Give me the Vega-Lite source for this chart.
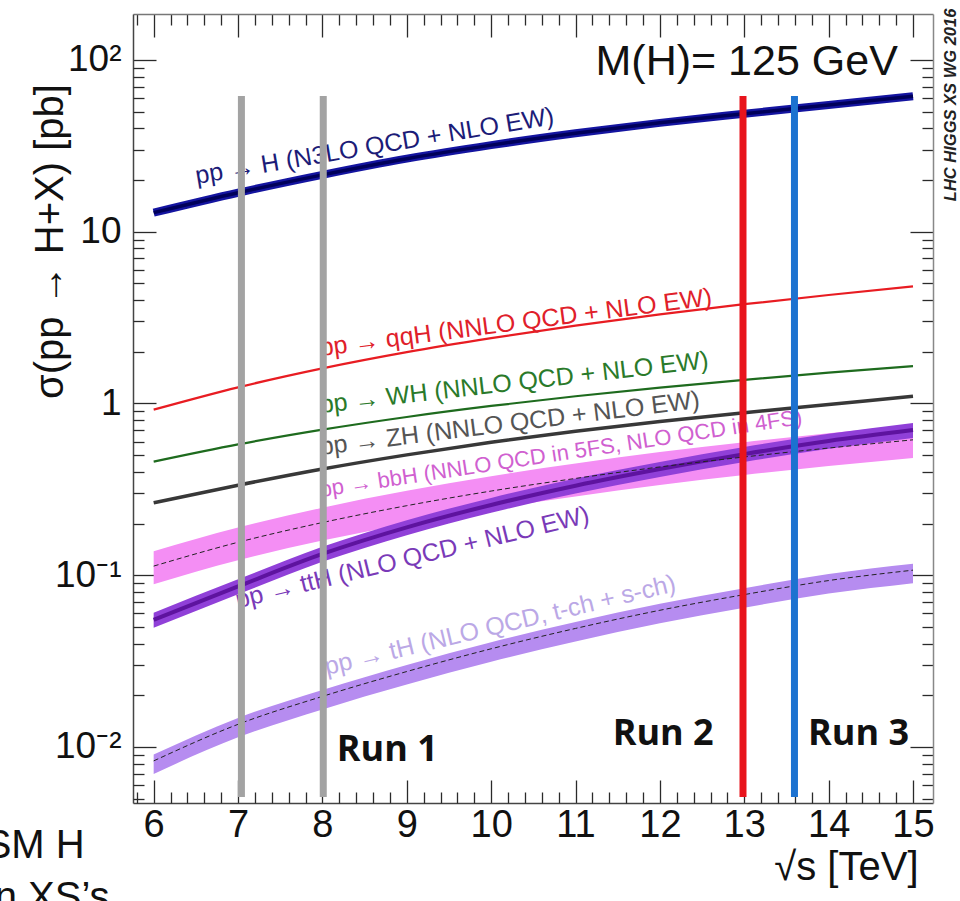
{
  "$schema": "https://vega.github.io/schema/vega-lite/v6.json",
  "width": 800,
  "height": 789,
  "autosize": {"type": "none"},
  "padding": {"left": 133, "top": 14, "right": 27, "bottom": 98},
  "background": "white",
  "config": {
    "view": {"stroke": null},
    "font": "Liberation Sans",
    "axis": {"grid": false, "tickColor": "#2a2a2a", "tickWidth": 1.3, "domainColor": "#444", "domainWidth": 1.5, "labelFont": "Liberation Sans", "titleFont": "Liberation Sans", "labelColor": "#111", "titleColor": "#111", "titleFontWeight": "normal", "labelOverlap": false, "labelFlush": false, "labelBound": false, "zindex": 1}
  },
  "datasets": {
    "lines": [
      {"p": "ggF", "x": 6, "y": 12.9}, {"p": "ggF", "x": 7, "y": 16.85}, {"p": "ggF", "x": 8, "y": 21.42}, {"p": "ggF", "x": 9, "y": 26.6}, {"p": "ggF", "x": 10, "y": 31.9}, {"p": "ggF", "x": 11, "y": 37.4}, {"p": "ggF", "x": 12, "y": 43.0}, {"p": "ggF", "x": 13, "y": 48.58}, {"p": "ggF", "x": 14, "y": 54.67}, {"p": "ggF", "x": 15, "y": 61.5},
      {"p": "qqH", "x": 6, "y": 0.92}, {"p": "qqH", "x": 7, "y": 1.241}, {"p": "qqH", "x": 8, "y": 1.601}, {"p": "qqH", "x": 9, "y": 1.99}, {"p": "qqH", "x": 10, "y": 2.4}, {"p": "qqH", "x": 11, "y": 2.84}, {"p": "qqH", "x": 12, "y": 3.3}, {"p": "qqH", "x": 13, "y": 3.782}, {"p": "qqH", "x": 14, "y": 4.278}, {"p": "qqH", "x": 15, "y": 4.8},
      {"p": "WH", "x": 6, "y": 0.458}, {"p": "WH", "x": 7, "y": 0.5771}, {"p": "WH", "x": 8, "y": 0.7035}, {"p": "WH", "x": 9, "y": 0.834}, {"p": "WH", "x": 10, "y": 0.967}, {"p": "WH", "x": 11, "y": 1.101}, {"p": "WH", "x": 12, "y": 1.237}, {"p": "WH", "x": 13, "y": 1.373}, {"p": "WH", "x": 14, "y": 1.51}, {"p": "WH", "x": 15, "y": 1.65},
      {"p": "ZH", "x": 6, "y": 0.264}, {"p": "ZH", "x": 7, "y": 0.3341}, {"p": "ZH", "x": 8, "y": 0.4153}, {"p": "ZH", "x": 9, "y": 0.502}, {"p": "ZH", "x": 10, "y": 0.594}, {"p": "ZH", "x": 11, "y": 0.689}, {"p": "ZH", "x": 12, "y": 0.786}, {"p": "ZH", "x": 13, "y": 0.8839}, {"p": "ZH", "x": 14, "y": 0.9861}, {"p": "ZH", "x": 15, "y": 1.1}
    ],
    "bands": [
      {"p": "bbH", "x": 6, "y": 0.113, "lo": 0.0887, "hi": 0.138}, {"p": "bbH", "x": 7, "y": 0.1555, "lo": 0.1221, "hi": 0.1897}, {"p": "bbH", "x": 8, "y": 0.2026, "lo": 0.159, "hi": 0.2472}, {"p": "bbH", "x": 9, "y": 0.254, "lo": 0.1994, "hi": 0.3099}, {"p": "bbH", "x": 10, "y": 0.309, "lo": 0.2426, "hi": 0.377}, {"p": "bbH", "x": 11, "y": 0.366, "lo": 0.2873, "hi": 0.4465}, {"p": "bbH", "x": 12, "y": 0.427, "lo": 0.3352, "hi": 0.5209}, {"p": "bbH", "x": 13, "y": 0.488, "lo": 0.3831, "hi": 0.5954}, {"p": "bbH", "x": 14, "y": 0.55, "lo": 0.4318, "hi": 0.671}, {"p": "bbH", "x": 15, "y": 0.614, "lo": 0.482, "hi": 0.749},
      {"p": "ttH", "x": 6, "y": 0.055, "lo": 0.0495, "hi": 0.0605}, {"p": "ttH", "x": 7, "y": 0.0861, "lo": 0.0775, "hi": 0.0947}, {"p": "ttH", "x": 8, "y": 0.133, "lo": 0.1197, "hi": 0.1463}, {"p": "ttH", "x": 9, "y": 0.19, "lo": 0.171, "hi": 0.209}, {"p": "ttH", "x": 10, "y": 0.2564, "lo": 0.2308, "hi": 0.282}, {"p": "ttH", "x": 11, "y": 0.332, "lo": 0.2988, "hi": 0.3652}, {"p": "ttH", "x": 12, "y": 0.415, "lo": 0.3735, "hi": 0.4565}, {"p": "ttH", "x": 13, "y": 0.507, "lo": 0.4563, "hi": 0.5577}, {"p": "ttH", "x": 14, "y": 0.605, "lo": 0.5445, "hi": 0.6655}, {"p": "ttH", "x": 15, "y": 0.7, "lo": 0.63, "hi": 0.77},
      {"p": "tH", "x": 6, "y": 0.0083, "lo": 0.00697, "hi": 0.00905}, {"p": "tH", "x": 7, "y": 0.01355, "lo": 0.01138, "hi": 0.01477}, {"p": "tH", "x": 8, "y": 0.0197, "lo": 0.01655, "hi": 0.02147}, {"p": "tH", "x": 9, "y": 0.0275, "lo": 0.0231, "hi": 0.02998}, {"p": "tH", "x": 10, "y": 0.0373, "lo": 0.03133, "hi": 0.04066}, {"p": "tH", "x": 11, "y": 0.049, "lo": 0.04116, "hi": 0.05341}, {"p": "tH", "x": 12, "y": 0.0625, "lo": 0.0525, "hi": 0.06813}, {"p": "tH", "x": 13, "y": 0.0771, "lo": 0.06476, "hi": 0.08404}, {"p": "tH", "x": 14, "y": 0.0931, "lo": 0.0782, "hi": 0.1015}, {"p": "tH", "x": 15, "y": 0.107, "lo": 0.08988, "hi": 0.1166}
    ],
    "runs": [
      {"run": "7 TeV", "x": 7.04, "top": 61.7, "bottom": 0.00512},
      {"run": "8 TeV", "x": 8.01, "top": 61.7, "bottom": 0.00512},
      {"run": "13 TeV", "x": 12.985, "top": 61.7, "bottom": 0.00512},
      {"run": "13.6 TeV", "x": 13.595, "top": 61.7, "bottom": 0.00512}
    ]
  },
  "resolve": {"scale": {"color": "independent"}, "axis": {"x": "independent", "y": "independent"}},
  "layer": [
    {
      "data": {"name": "bands"},
      "mark": {"type": "area", "interpolate": "monotone", "opacity": 1},
      "encoding": {
        "x": {"field": "x", "type": "quantitative", "scale": {"domain": [5.755, 15.237], "nice": false, "zero": false},
          "axis": {"orient": "bottom", "title": "√s [TeV]", "titleFontSize": 40, "titleX": 785, "titleY": 64, "titleAlign": "right", "titleBaseline": "middle", "titleAnchor": null,
            "values": [6,7,8,9,10,11,12,13,14,15], "format": "d",
            "tickSize": -23, "labelFontSize": 38, "labelBaseline": "top", "labelPadding": 26}},
        "y": {"field": "lo", "type": "quantitative", "scale": {"type": "log", "domain": [0.00472, 185], "nice": false},
          "axis": {"orient": "left", "title": "σ(pp → H+X) [pb]", "titleFontSize": 40, "titleAngle": 270, "titleX": -83, "titleY": 227, "titleAlign": "center", "titleBaseline": "middle", "titleAnchor": null,
            "values": [0.01, 0.1, 1, 10, 100],
            "tickSize": -23,
            "labelExpr": "datum.value > 50 ? '10²' : datum.value > 5 ? '10' : datum.value > 0.5 ? '1' : datum.value > 0.05 ? '10⁻¹' : '10⁻²'",
            "labelFontSize": 37, "labelBaseline": "middle", "labelPadding": 35}},
        "y2": {"field": "hi"},
        "color": {"field": "p", "type": "nominal", "scale": {"domain": ["bbH", "ttH", "tH"], "range": ["#f48ef4", "#9040d8", "#b68cf0"]}, "legend": null}
      }
    },
    {
      "data": {"name": "lines"},
      "transform": [{"filter": "datum.p == 'qqH' || datum.p == 'WH'"}],
      "mark": {"type": "line", "interpolate": "monotone", "strokeWidth": 2.2},
      "encoding": {
        "x": {"field": "x", "type": "quantitative", "scale": {"domain": [5.755, 15.237], "nice": false, "zero": false},
          "axis": {"orient": "bottom", "title": null, "labels": false, "domain": false,
            "values": [5.8,6.2,6.4,6.6,6.8,7.2,7.4,7.6,7.8,8.2,8.4,8.6,8.8,9.2,9.4,9.6,9.8,10.2,10.4,10.6,10.8,11.2,11.4,11.6,11.8,12.2,12.4,12.6,12.8,13.2,13.4,13.6,13.8,14.2,14.4,14.6,14.8],
            "tickSize": -11}},
        "y": {"field": "y", "type": "quantitative", "scale": {"type": "log", "domain": [0.00472, 185], "nice": false},
          "axis": {"orient": "left", "title": null, "labels": false, "domain": false,
            "values": [0.005,0.006,0.007,0.008,0.009,0.02,0.03,0.04,0.05,0.06,0.07,0.08,0.09,0.2,0.3,0.4,0.5,0.6,0.7,0.8,0.9,2,3,4,5,6,7,8,9,20,30,40,50,60,70,80,90],
            "tickSize": -11}},
        "color": {"field": "p", "type": "nominal", "scale": {"domain": ["qqH", "WH"], "range": ["#e81c22", "#1e6b1e"]}, "legend": null}
      }
    },
    {
      "data": {"name": "lines"},
      "transform": [{"filter": "datum.p == 'ZH'"}],
      "mark": {"type": "line", "interpolate": "monotone", "color": "#383838", "strokeWidth": 3.5},
      "encoding": {
        "x": {"field": "x", "type": "quantitative", "scale": {"domain": [5.755, 15.237], "nice": false, "zero": false}, "axis": null},
        "y": {"field": "y", "type": "quantitative", "scale": {"type": "log", "domain": [0.00472, 185], "nice": false}, "axis": null}
      }
    },
    {
      "data": {"name": "lines"},
      "transform": [{"filter": "datum.p == 'ggF'"}],
      "mark": {"type": "line", "interpolate": "monotone", "color": "#1414a0", "strokeWidth": 8},
      "encoding": {
        "x": {"field": "x", "type": "quantitative", "scale": {"domain": [5.755, 15.237], "nice": false, "zero": false}, "axis": null},
        "y": {"field": "y", "type": "quantitative", "scale": {"type": "log", "domain": [0.00472, 185], "nice": false}, "axis": null}
      }
    },
    {
      "data": {"name": "lines"},
      "transform": [{"filter": "datum.p == 'ggF'"}],
      "mark": {"type": "line", "interpolate": "monotone", "color": "#00005a", "strokeWidth": 3.5},
      "encoding": {
        "x": {"field": "x", "type": "quantitative", "scale": {"domain": [5.755, 15.237], "nice": false, "zero": false}, "axis": null},
        "y": {"field": "y", "type": "quantitative", "scale": {"type": "log", "domain": [0.00472, 185], "nice": false}, "axis": null}
      }
    },
    {
      "data": {"name": "bands"},
      "transform": [{"filter": "datum.p == 'ttH'"}],
      "mark": {"type": "line", "interpolate": "monotone", "color": "#5e139f", "strokeWidth": 4},
      "encoding": {
        "x": {"field": "x", "type": "quantitative", "scale": {"domain": [5.755, 15.237], "nice": false, "zero": false}, "axis": null},
        "y": {"field": "y", "type": "quantitative", "scale": {"type": "log", "domain": [0.00472, 185], "nice": false}, "axis": null}
      }
    },
    {
      "data": {"name": "bands"},
      "transform": [{"filter": "datum.p != 'ttH'"}],
      "mark": {"type": "line", "interpolate": "monotone", "color": "#222", "strokeWidth": 1, "strokeDash": [5, 3]},
      "encoding": {
        "x": {"field": "x", "type": "quantitative", "scale": {"domain": [5.755, 15.237], "nice": false, "zero": false},
          "axis": {"orient": "top", "title": null, "labels": false, "domain": false,
            "values": [5.8,6.2,6.4,6.6,6.8,7.2,7.4,7.6,7.8,8.2,8.4,8.6,8.8,9.2,9.4,9.6,9.8,10.2,10.4,10.6,10.8,11.2,11.4,11.6,11.8,12.2,12.4,12.6,12.8,13.2,13.4,13.6,13.8,14.2,14.4,14.6,14.8],
            "tickSize": -11}},
        "y": {"field": "y", "type": "quantitative", "scale": {"type": "log", "domain": [0.00472, 185], "nice": false},
          "axis": {"orient": "right", "title": null, "labels": false, "domain": false,
            "values": [0.005,0.006,0.007,0.008,0.009,0.02,0.03,0.04,0.05,0.06,0.07,0.08,0.09,0.2,0.3,0.4,0.5,0.6,0.7,0.8,0.9,2,3,4,5,6,7,8,9,20,30,40,50,60,70,80,90],
            "tickSize": -11}},
        "detail": {"field": "p"}
      }
    },
    {
      "data": {"values": [{"label": "pp → H (N3LO QCD + NLO EW)", "x": 6.51, "y": 18.97}]},
      "mark": {"type": "text", "align": "left", "baseline": "alphabetic", "angle": -9.5, "fontSize": 25, "color": "#1c1c78", "font": "Liberation Sans"},
      "encoding": {
        "x": {"field": "x", "type": "quantitative", "scale": {"domain": [5.755, 15.237], "nice": false, "zero": false}, "axis": null},
        "y": {"field": "y", "type": "quantitative", "scale": {"type": "log", "domain": [0.00472, 185], "nice": false}, "axis": null},
        "text": {"field": "label"}
      }
    },
    {
      "data": {"values": [{"label": "pp → qqH (NNLO QCD + NLO EW)", "x": 7.98, "y": 1.89}]},
      "mark": {"type": "text", "align": "left", "baseline": "alphabetic", "angle": -7.4, "fontSize": 25, "color": "#e0202a", "font": "Liberation Sans"},
      "encoding": {
        "x": {"field": "x", "type": "quantitative", "scale": {"domain": [5.755, 15.237], "nice": false, "zero": false}, "axis": null},
        "y": {"field": "y", "type": "quantitative", "scale": {"type": "log", "domain": [0.00472, 185], "nice": false}, "axis": null},
        "text": {"field": "label"}
      }
    },
    {
      "data": {"values": [{"label": "pp → WH (NNLO QCD + NLO EW)", "x": 7.98, "y": 0.88}]},
      "mark": {"type": "text", "align": "left", "baseline": "alphabetic", "angle": -6.6, "fontSize": 25, "color": "#2a7a2a", "font": "Liberation Sans"},
      "encoding": {
        "x": {"field": "x", "type": "quantitative", "scale": {"domain": [5.755, 15.237], "nice": false, "zero": false}, "axis": null},
        "y": {"field": "y", "type": "quantitative", "scale": {"type": "log", "domain": [0.00472, 185], "nice": false}, "axis": null},
        "text": {"field": "label"}
      }
    },
    {
      "data": {"values": [{"label": "pp → ZH (NNLO QCD + NLO EW)", "x": 7.98, "y": 0.501}]},
      "mark": {"type": "text", "align": "left", "baseline": "alphabetic", "angle": -7.1, "fontSize": 25, "color": "#555555", "font": "Liberation Sans"},
      "encoding": {
        "x": {"field": "x", "type": "quantitative", "scale": {"domain": [5.755, 15.237], "nice": false, "zero": false}, "axis": null},
        "y": {"field": "y", "type": "quantitative", "scale": {"type": "log", "domain": [0.00472, 185], "nice": false}, "axis": null},
        "text": {"field": "label"}
      }
    },
    {
      "data": {"values": [{"label": "pp → bbH (NNLO QCD in 5FS, NLO QCD in 4FS)", "x": 7.98, "y": 0.2857}]},
      "mark": {"type": "text", "align": "left", "baseline": "alphabetic", "angle": -8.6, "fontSize": 22, "color": "#d060d0", "font": "Liberation Sans"},
      "encoding": {
        "x": {"field": "x", "type": "quantitative", "scale": {"domain": [5.755, 15.237], "nice": false, "zero": false}, "axis": null},
        "y": {"field": "y", "type": "quantitative", "scale": {"type": "log", "domain": [0.00472, 185], "nice": false}, "axis": null},
        "text": {"field": "label"}
      }
    },
    {
      "data": {"values": [{"label": "pp → ttH (NLO QCD + NLO EW)", "x": 6.996, "y": 0.0642}]},
      "mark": {"type": "text", "align": "left", "baseline": "alphabetic", "angle": -13.7, "fontSize": 25, "color": "#7a3ab8", "font": "Liberation Sans"},
      "encoding": {
        "x": {"field": "x", "type": "quantitative", "scale": {"domain": [5.755, 15.237], "nice": false, "zero": false}, "axis": null},
        "y": {"field": "y", "type": "quantitative", "scale": {"type": "log", "domain": [0.00472, 185], "nice": false}, "axis": null},
        "text": {"field": "label"}
      }
    },
    {
      "data": {"values": [{"label": "pp → tH (NLO QCD, t-ch + s-ch)", "x": 8.05, "y": 0.02624}]},
      "mark": {"type": "text", "align": "left", "baseline": "alphabetic", "angle": -13.5, "fontSize": 25, "color": "#bba8e6", "font": "Liberation Sans"},
      "encoding": {
        "x": {"field": "x", "type": "quantitative", "scale": {"domain": [5.755, 15.237], "nice": false, "zero": false}, "axis": null},
        "y": {"field": "y", "type": "quantitative", "scale": {"type": "log", "domain": [0.00472, 185], "nice": false}, "axis": null},
        "text": {"field": "label"}
      }
    },
    {
      "data": {"name": "runs"},
      "mark": {"type": "rule", "strokeWidth": 7},
      "encoding": {
        "x": {"field": "x", "type": "quantitative", "scale": {"domain": [5.755, 15.237], "nice": false, "zero": false},
          "axis": {"orient": "top", "title": null, "labels": false, "domainColor": "#777",
            "values": [6,7,8,9,10,11,12,13,14,15], "tickSize": -23}},
        "y": {"field": "top", "type": "quantitative", "scale": {"type": "log", "domain": [0.00472, 185], "nice": false},
          "axis": {"orient": "right", "title": null, "labels": false, "domainColor": "#888",
            "values": [0.01, 0.1, 1, 10, 100], "tickSize": -23}},
        "y2": {"field": "bottom"},
        "color": {"field": "run", "type": "nominal", "scale": {"domain": ["7 TeV", "8 TeV", "13 TeV", "13.6 TeV"], "range": ["#a3a3a3", "#a3a3a3", "#e8141c", "#1c72d0"]}, "legend": null}
      }
    },
    {
      "data": {"values": [{"label": "Run 1", "x": 8.17, "y": 0.00829}, {"label": "Run 2", "x": 11.44, "y": 0.01027}, {"label": "Run 3", "x": 13.755, "y": 0.01027}]},
      "mark": {"type": "text", "align": "left", "baseline": "alphabetic", "fontSize": 36, "fontWeight": "bold", "font": "Open Sans", "color": "#111"},
      "encoding": {
        "x": {"field": "x", "type": "quantitative", "scale": {"domain": [5.755, 15.237], "nice": false, "zero": false}, "axis": null},
        "y": {"field": "y", "type": "quantitative", "scale": {"type": "log", "domain": [0.00472, 185], "nice": false}, "axis": null},
        "text": {"field": "label"}
      }
    },
    {
      "data": {"values": [{"label": "M(H)= 125 GeV", "x": 14.82, "y": 81.8}]},
      "mark": {"type": "text", "align": "right", "baseline": "alphabetic", "fontSize": 43, "font": "Liberation Sans", "color": "#111"},
      "encoding": {
        "x": {"field": "x", "type": "quantitative", "scale": {"domain": [5.755, 15.237], "nice": false, "zero": false}, "axis": null},
        "y": {"field": "y", "type": "quantitative", "scale": {"type": "log", "domain": [0.00472, 185], "nice": false}, "axis": null},
        "text": {"field": "label"}
      }
    },
    {
      "data": {"values": [{"label": "LHC HIGGS XS WG 2016", "x": 15.45, "y": 54.7}]},
      "mark": {"type": "text", "align": "center", "baseline": "middle", "angle": 270, "fontSize": 16.5, "fontWeight": "bold", "fontStyle": "italic", "font": "Liberation Sans", "color": "#222"},
      "encoding": {
        "x": {"field": "x", "type": "quantitative", "scale": {"domain": [5.755, 15.237], "nice": false, "zero": false}, "axis": null},
        "y": {"field": "y", "type": "quantitative", "scale": {"type": "log", "domain": [0.00472, 185], "nice": false}, "axis": null},
        "text": {"field": "label"}
      }
    },
    {
      "data": {"values": [{"label": "SM H", "x": 5.182, "y": 0.00226}, {"label": "n XS’s", "x": 5.478, "y": 0.001125}]},
      "mark": {"type": "text", "align": "right", "baseline": "alphabetic", "fontSize": 40, "font": "Liberation Sans", "color": "#111"},
      "encoding": {
        "x": {"field": "x", "type": "quantitative", "scale": {"domain": [5.755, 15.237], "nice": false, "zero": false}, "axis": null},
        "y": {"field": "y", "type": "quantitative", "scale": {"type": "log", "domain": [0.00472, 185], "nice": false}, "axis": null},
        "text": {"field": "label"}
      }
    }
  ]
}
